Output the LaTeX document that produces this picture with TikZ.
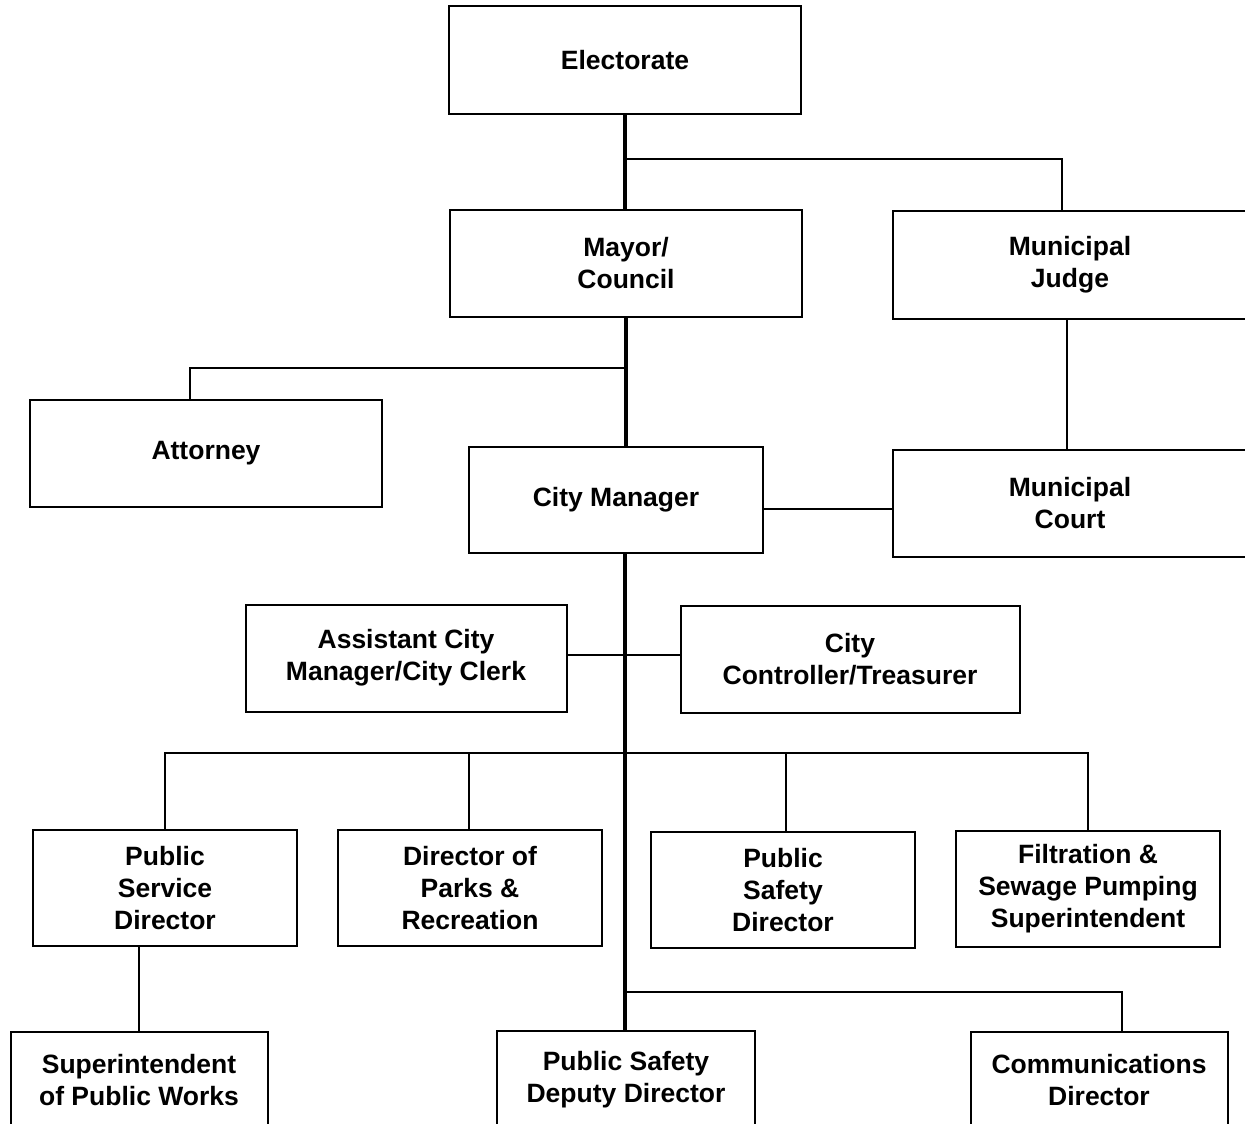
\documentclass[tikz,border=0pt]{standalone}
\usepackage{fontspec}
\setmainfont{Liberation Sans}
\usepackage{tikz}

\tikzset{
    box/.style={draw, line width=2pt, align=center, inner sep=0pt,
        font=\fontsize{26.5}{32}\selectfont\bfseries},
    trunk/.style={line width=3.5pt},
    branch/.style={line width=2pt}
}

\begin{document}
\begin{tikzpicture}[x=1pt, y=-1pt]
        \useasboundingbox (0,0) rectangle (1245,1124);
        \clip (0,0) rectangle (1245,1124);

        % Top levels
            \node[box, minimum width=352pt, minimum height=107pt] (elect) at (625, 60) {Electorate};
            \node[box, minimum width=352pt, minimum height=107pt] (mayor) at (626, 263) {Mayor/\\Council};
            \node[box, minimum width=354pt, minimum height=108pt] (judge) at (1070, 265) {Municipal\\Judge};

            % Manager level
            \node[box, minimum width=352pt, minimum height=107pt] (atty) at (206, 453) {Attorney};
            \node[box, minimum width=294pt, minimum height=106pt] (mgr) at (616, 500) {City Manager};
            \node[box, minimum width=354pt, minimum height=107pt] (court) at (1070, 503) {Municipal\\Court};

            % Staff
            \node[box, minimum width=321pt, minimum height=107pt] (asst) at (406, 658) {Assistant City\\Manager/City Clerk};
            \node[box, minimum width=339pt, minimum height=107pt] (ctrl) at (850, 659) {City\\Controller/Treasurer};

            % Directors
            \node[box, minimum width=264pt, minimum height=116pt] (psd) at (165, 888) {Public\\Service\\Director};
            \node[box, minimum width=264pt, minimum height=116pt] (parks) at (470, 888) {Director of\\Parks \&\\Recreation};
            \node[box, minimum width=264pt, minimum height=116pt] (safety) at (783, 890) {Public\\Safety\\Director};
            \node[box, minimum width=264pt, minimum height=116pt] (filt) at (1088, 889) {Filtration \&\\Sewage Pumping\\Superintendent};

            % Bottom row
            \node[box, minimum width=257pt, minimum height=96pt] (supt) at (139, 1080) {Superintendent\\of Public Works};
            \node[box, minimum width=258pt, minimum height=98pt] (deputy) at (626, 1080) {Public Safety\\Deputy Director};
            \node[box, minimum width=257pt, minimum height=96pt] (comm) at (1099, 1080) {Communications\\Director};

            % Branch points
            \coordinate (e1) at (625, 159);
            \coordinate (a1) at (625, 368);
            \coordinate (b1) at (625, 753);
            \coordinate (c1) at (625, 992);

            % Main line
            \draw[trunk] (elect.south) -- (elect.south |- mayor.north);
            \draw[trunk] (mayor.south) -- (mayor.south |- mgr.north);
            \draw[trunk] (elect.south |- mgr.south) -- (elect.south |- deputy.north);

            % Side connections
            \draw[branch] (e1) -| ([xshift=-8pt]judge.north);
            \draw[branch] ([xshift=-3pt]judge.south) -- ([xshift=-3pt]court.north);
            \draw[branch] (a1) -| ([xshift=-16pt]atty.north);
            \draw[branch] ([yshift=-9pt]mgr.east) -- ([yshift=-9pt]mgr.east -| court.west);
            \draw[branch] ([yshift=3pt]asst.east) -- ([yshift=3pt]asst.east -| ctrl.west);

            % Directors
            \draw[branch] (b1) -| (psd.north);
            \draw[branch] (b1) -| ([xshift=-1pt]parks.north);
            \draw[branch] (b1) -| ([xshift=3pt]safety.north);
            \draw[branch] (b1) -| (filt.north);

            % Lower connections
            \draw[branch] (supt.north |- psd.south) -- (supt.north);
            \draw[branch] (c1) -| ([xshift=23pt]comm.north);
    \end{tikzpicture}
\end{document}
